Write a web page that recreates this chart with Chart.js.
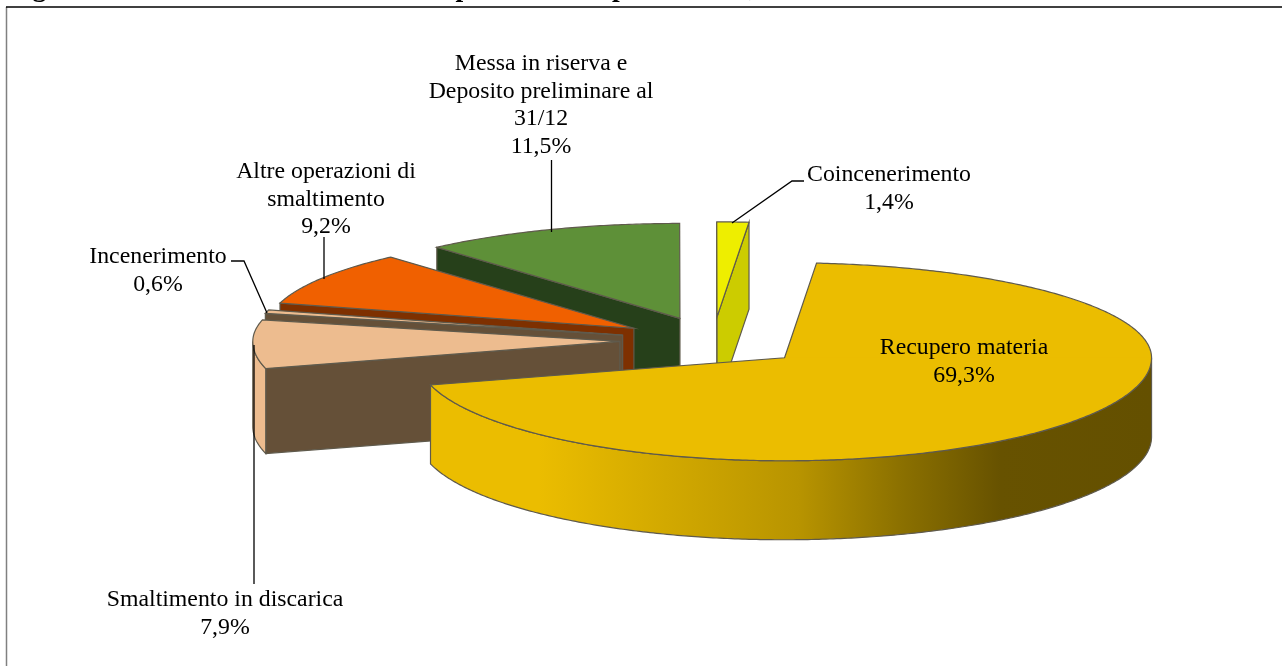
<!DOCTYPE html>
<html>
<head>
<meta charset="utf-8">
<title>Grafico a torta</title>
<script src="https://cdn.jsdelivr.net/npm/chart.js@4"></script>
<style>
    html, body { margin: 0; padding: 0; background: #fff; overflow: hidden; }
    canvas { display: block; }
</style>
</head>
<body>
<canvas id="myChart" width="1282" height="666"></canvas>
<script>
// the title is cropped in the source, only descenders show: this wording is a guess
const titleText = "Figura 3.15 – Gestione dei rifiuti: la ripartizione in percentuale,";
const categories = ["Recupero materia", "Smaltimento in discarica", "Incenerimento", "Altre operazioni di smaltimento", "Messa in riserva e Deposito preliminare al 31/12", "Coincenerimento"];
const values = [69.3, 7.9, 0.6, 9.2, 11.5, 1.4];
const labelLines = [["Recupero materia"], ["Smaltimento in discarica"], ["Incenerimento"], ["Altre operazioni di", "smaltimento"], ["Messa in riserva e", "Deposito preliminare al", "31/12"], ["Coincenerimento"]];

const topColors = ["#ebbd00", "#edbc8f", "#edbc8f", "#f06000", "#5e9038", "#eeee00"];
const wallColors = ["#ebbd00", "#edbc8f", "#edbc8f", "#7e3000", "#26401a", "#cccc00"];
const cutColors = ["#ebbd00", "#655038", "#655038", "#7e3000", "#26401a", "#cccc00"];
const wallDepths = [79, 85, 85, 85, 85, 87];
const labelAnchors = [[964, 348], [225, 600], [158, 257], [326, 172], [541, 64], [889, 175]];
const leaderLines = [[], [[254, 345], [254, 584]], [[231, 261], [244, 261], [267, 313]], [[324, 237], [324, 279]], [[551.5, 160], [551.5, 232]], [[732, 223], [792, 181], [804, 181]]];

const RX = 367, RY_BACK = 95, RY_FRONT = 103, EXPLODE = 0.254;
const OUTLINE = "#5f5a4c";

function center(arc) {
    const mid = (arc.startAngle + arc.endAngle) / 2;
    const s = Math.sin(mid);
    return {
        x: arc.x + Math.cos(mid) * EXPLODE * RX,
        y: arc.y + s * EXPLODE * (s < 0 ? RY_BACK : RY_FRONT)
    };
}

function rim(c, a, drop) {
    const s = Math.sin(a);
    return { x: c.x + Math.cos(a) * RX, y: c.y + s * (s < 0 ? RY_BACK : RY_FRONT) + (drop || 0) };
}

function traceRim(ctx, c, from, to, drop, first) {
    const steps = Math.max(2, Math.ceil(Math.abs(to - from) / 0.01));
    for (let i = 0; i <= steps; i++) {
        const p = rim(c, from + (to - from) * i / steps, drop);
        if (i === 0 && first) ctx.moveTo(p.x, p.y);
        else ctx.lineTo(p.x, p.y);
    }
}

function drawCut(ctx, c, a, index) {
    const p = rim(c, a);
    const depth = wallDepths[index];
    ctx.beginPath();
    ctx.moveTo(c.x, c.y);
    ctx.lineTo(p.x, p.y);
    ctx.lineTo(p.x, p.y + depth);
    ctx.lineTo(c.x, c.y + depth);
    ctx.closePath();
    ctx.fillStyle = cutColors[index];
    ctx.fill();
    ctx.stroke();
}

function drawOuterWall(ctx, c, arc, index) {
    const from = Math.max(arc.startAngle, 0);
    const to = Math.min(arc.endAngle, Math.PI);
    if (to <= from) return;
    ctx.beginPath();
    traceRim(ctx, c, from, to, 0, true);
    traceRim(ctx, c, to, from, wallDepths[index], false);
    ctx.closePath();
    if (index === 0) {
        const left = rim(c, to).x;
        const g = ctx.createLinearGradient(left, 0, c.x + RX, 0);
        g.addColorStop(0, "#ebbd00");
        g.addColorStop(0.15, "#ebbd00");
        g.addColorStop(0.51, "#b89400");
        g.addColorStop(0.65, "#8c7100");
        g.addColorStop(0.79, "#675200");
        g.addColorStop(1, "#645000");
        ctx.fillStyle = g;
    } else {
        ctx.fillStyle = wallColors[index];
    }
    ctx.fill();
    ctx.stroke();
}

function drawTop(ctx, c, arc) {
    // the far half of the disc is a bit flatter than the near one
    [[-1, RY_BACK], [1, RY_FRONT]].forEach(function (part) {
        ctx.save();
        ctx.beginPath();
        if (part[0] < 0) ctx.rect(0, 0, 1282, c.y + 0.5);
        else ctx.rect(0, c.y, 1282, 666 - c.y);
        ctx.clip();
        ctx.translate(c.x, c.y);
        ctx.scale(RX / arc.outerRadius, part[1] / arc.outerRadius);
        ctx.translate(-arc.x, -arc.y);
        arc.draw(ctx);
        ctx.restore();
    });
    ctx.beginPath();
    ctx.moveTo(c.x, c.y);
    traceRim(ctx, c, arc.startAngle, arc.endAngle, 0, false);
    ctx.closePath();
    ctx.stroke();
}

const pie3d = {
    id: "pie3d",
    beforeDatasetDraw(chart) {
        const ctx = chart.ctx;
        const arcs = chart.getDatasetMeta(0).data;
        ctx.save();
        ctx.lineWidth = 1.2;
        ctx.strokeStyle = OUTLINE;
        for (let i = arcs.length - 1; i >= 0; i--) {
            const arc = arcs[i];
            const c = center(arc);
            // only the cut faces turned to the viewer
            if (Math.cos(arc.startAngle) < 0) drawCut(ctx, c, arc.startAngle, i);
            if (Math.cos(arc.endAngle) > 0) drawCut(ctx, c, arc.endAngle, i);
            drawOuterWall(ctx, c, arc, i);
            drawTop(ctx, c, arc);
        }
        ctx.restore();
        return false;
    },
    afterDraw(chart) {
        const ctx = chart.ctx;
        ctx.save();
        // frame
        ctx.strokeStyle = "#808080";
        ctx.lineWidth = 1.5;
        ctx.beginPath();
        ctx.moveTo(6.5, 7);
        ctx.lineTo(6.5, 666);
        ctx.stroke();
        // title, cut by the top edge of the page
        ctx.fillStyle = "#000";
        ctx.textBaseline = "alphabetic";
        ctx.textAlign = "left";
        ctx.font = "bold 27.6px 'Liberation Serif'";
        ctx.fillText(titleText, 8, -4);
        ctx.strokeStyle = "#000";
        ctx.lineWidth = 1.7;
        ctx.beginPath();
        ctx.moveTo(6, 7);
        ctx.lineTo(1282, 7);
        ctx.stroke();
        // leaders
        ctx.strokeStyle = "#000";
        ctx.lineWidth = 1.3;
        leaderLines.forEach(function (line) {
            ctx.beginPath();
            line.forEach(function (p, i) {
                if (i === 0) ctx.moveTo(p[0], p[1]);
                else ctx.lineTo(p[0], p[1]);
            });
            ctx.stroke();
        });
        // labels
        ctx.font = "23.8px 'Liberation Serif'";
        ctx.textAlign = "center";
        ctx.textBaseline = "middle";
        labelLines.forEach(function (lines, i) {
            const rows = lines.concat(values[i].toFixed(1).replace(".", ",") + "%");
            rows.forEach(function (row, r) {
                ctx.fillText(row, labelAnchors[i][0], labelAnchors[i][1] + r * 27.6);
            });
        });
        ctx.restore();
    }
};

const ctx = document.getElementById("myChart").getContext("2d");
const myChart = new Chart(ctx, {
    type: "pie",
    data: {
        labels: categories,
        datasets: [{ data: values, backgroundColor: topColors, borderWidth: 0 }]
    },
    options: {
        responsive: false,
        animation: false,
        rotation: 5,
        layout: { padding: { left: 144, right: 0, top: 16, bottom: 0 } },
        plugins: { legend: { display: false }, tooltip: { enabled: false } }
    },
    plugins: [pie3d]
});
</script>
</body>
</html>
